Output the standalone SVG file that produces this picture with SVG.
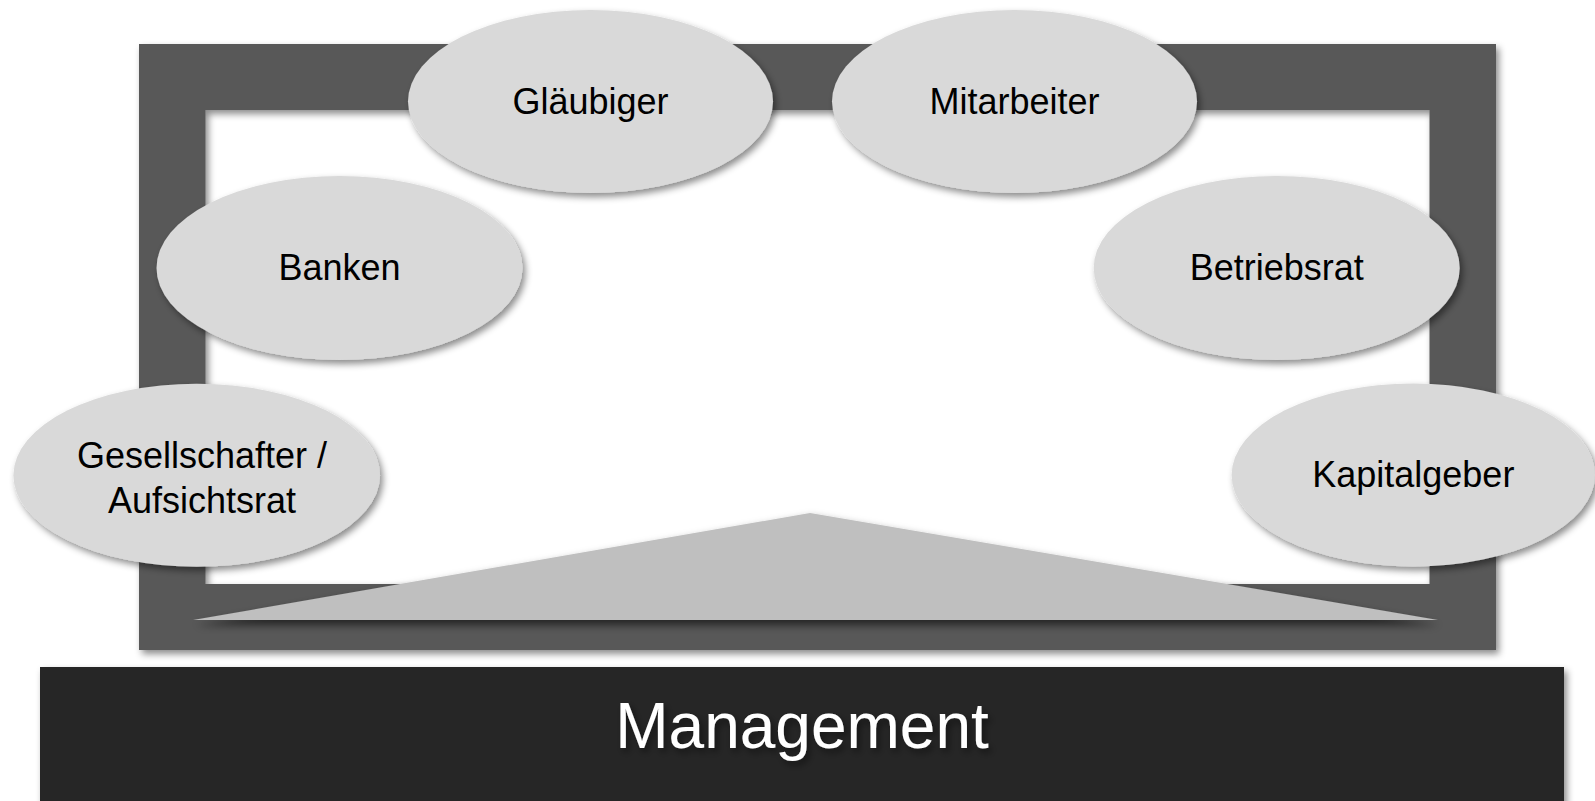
<svg xmlns="http://www.w3.org/2000/svg" width="1595" height="801" viewBox="0 0 1595 801">
<defs>
<filter id="sh" x="-10%" y="-10%" width="125%" height="130%">
<feDropShadow dx="3" dy="4" stdDeviation="3.5" flood-color="#000" flood-opacity="0.45"/>
</filter>
<filter id="shT" x="-5%" y="-20%" width="110%" height="160%">
<feDropShadow dx="2" dy="5" stdDeviation="4" flood-color="#000" flood-opacity="0.6"/>
</filter>
</defs>
<style>
.ell{fill:#d9d9d9;filter:url(#sh)}
.lbl{font-family:"Liberation Sans",Arial,sans-serif;font-size:36px;fill:#000;text-anchor:middle}
</style>
<rect width="1595" height="801" fill="#fff"/>
<g id="frame">
<path d="M139,44 H1496 V650 H139 Z M205.5,110 V584 H1429.5 V110 Z" fill="#595959" fill-rule="evenodd" filter="url(#sh)"/>
</g>
<g id="triangle">
<polygon points="193,620 810,513 1438,620" fill="#bfbfbf" filter="url(#shT)"/>
</g>
<g id="connectors"></g>
<g id="glaeubiger">
<ellipse class="ell" cx="590.5" cy="101.5" rx="182.5" ry="91.5"/>
<text class="lbl" x="590.5" y="113.5">Gläubiger</text>
</g>
<g id="mitarbeiter">
<ellipse class="ell" cx="1014.5" cy="101.5" rx="182.5" ry="91.5"/>
<text class="lbl" x="1014.5" y="113.5">Mitarbeiter</text>
</g>
<g id="banken">
<ellipse class="ell" cx="339.5" cy="268" rx="183" ry="92"/>
<text class="lbl" x="339.5" y="280">Banken</text>
</g>
<g id="betriebsrat">
<ellipse class="ell" cx="1276.7" cy="268" rx="183" ry="92"/>
<text class="lbl" x="1276.7" y="280">Betriebsrat</text>
</g>
<g id="gesellschafter">
<ellipse class="ell" cx="196.7" cy="475.3" rx="183.3" ry="91.5"/>
<text class="lbl" x="202" y="467.7">Gesellschafter /</text>
<text class="lbl" x="202" y="512.7">Aufsichtsrat</text>
</g>
<g id="kapitalgeber">
<ellipse class="ell" cx="1413.3" cy="475" rx="181.7" ry="91.5"/>
<text class="lbl" x="1413.3" y="487.3">Kapitalgeber</text>
</g>
<g id="management">
<rect x="40" y="667" width="1524" height="140" fill="#262626" filter="url(#sh)"/>
<text x="802" y="748.3" font-family="'Liberation Sans',Arial,sans-serif" font-size="64" fill="#fff" text-anchor="middle" filter="url(#sh)">Management</text>
</g>
</svg>
